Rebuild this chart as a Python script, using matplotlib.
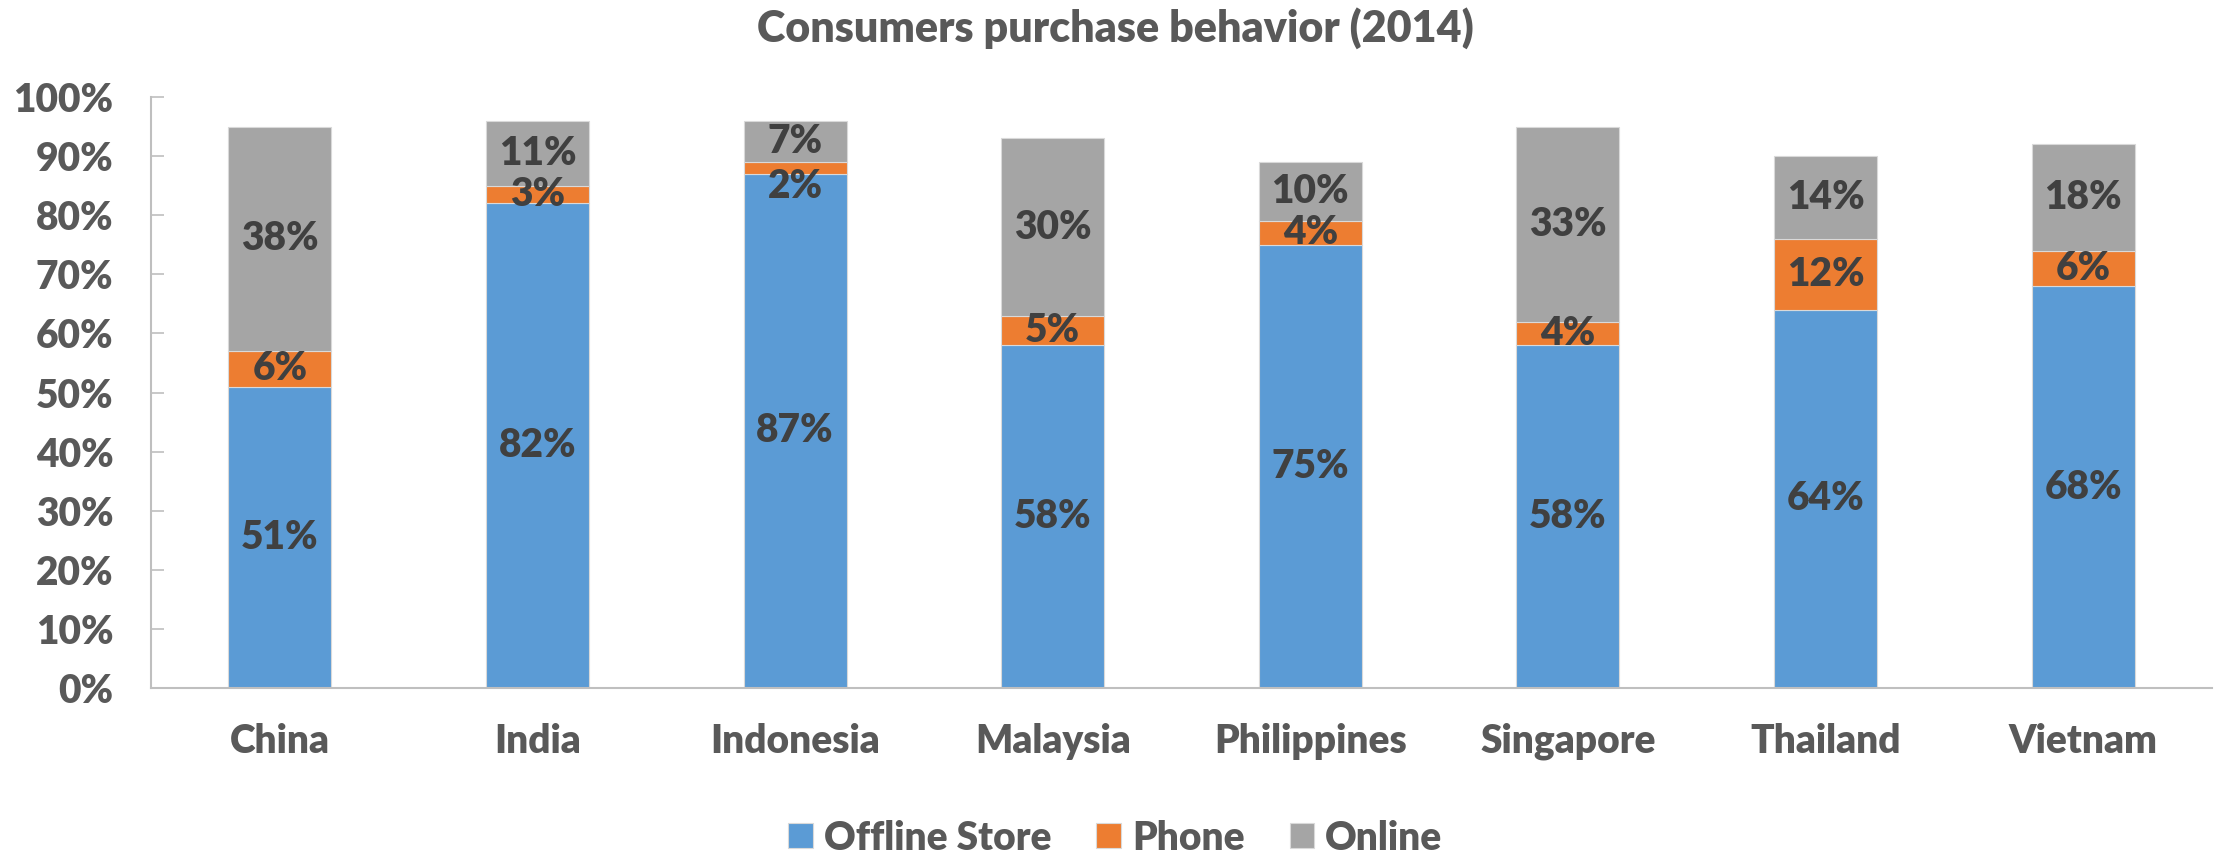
import matplotlib.pyplot as plt
import numpy as np

plt.rcParams['font.family'] = ['Lato', 'DejaVu Sans']
plt.rcParams['font.weight'] = 'heavy'

countries = ['China', 'India', 'Indonesia', 'Malaysia', 'Philippines', 'Singapore', 'Thailand', 'Vietnam']
offline = [51, 82, 87, 58, 75, 58, 64, 68]
phone = [6, 3, 2, 5, 4, 4, 12, 6]
online = [38, 11, 7, 30, 10, 33, 14, 18]

series = [('Offline Store', offline, '#5B9BD5'),
          ('Phone', phone, '#ED7D31'),
          ('Online', online, '#A5A5A5')]

fig = plt.figure(figsize=(22.31, 8.56), dpi=100)
ax = fig.add_axes([151/2231, 1-688/856, (2212-151)/2231, (688-97)/856])

x = np.arange(len(countries))
bottom = np.zeros(len(countries))
centers = []
for name, vals, col in series:
    v = np.array(vals) / 100
    ax.bar(x, v, 0.4, bottom=bottom, color=col, label=name, edgecolor='#D9D9D9', linewidth=0.8)
    centers.append(bottom + v/2)
    bottom += v

# push the phone label down when it collides with the online label (like Excel does)
lab_y = [c.copy() for c in centers]
for i in range(len(countries)):
    if lab_y[2][i] - lab_y[1][i] < 0.06:
        lab_y[1][i] = lab_y[2][i] - 0.076

for (name, vals, col), ys in zip(series, lab_y):
    for xi, yi, val in zip(x, ys, vals):
        ax.text(xi, yi, f'{val}%', ha='center', va='center',
                fontsize=28, color='#404040')

ax.set_xlim(-0.5, len(countries) - 0.5)
ax.set_ylim(0, 1)
ax.set_yticks(np.arange(0, 1.01, 0.1))
ax.set_yticklabels([f'{int(t)}%' for t in range(0, 101, 10)])
ax.set_xticks(x)
ax.set_xticklabels(countries)
ax.tick_params(axis='y', direction='in', length=9, width=1.2, color='#BFBFBF',
               labelsize=28, labelcolor='#595959', pad=27)
ax.tick_params(axis='x', length=0, labelsize=28, labelcolor='#595959', pad=25)
for s in ['top', 'right']:
    ax.spines[s].set_visible(False)
for s in ['left', 'bottom']:
    ax.spines[s].set_color('#BFBFBF')
    ax.spines[s].set_linewidth(1.5)

fig.text(0.5, 1-28/856, 'Consumers purchase behavior (2014)', ha='center', va='center',
         fontsize=31, color='#595959')

fig.legend(loc='center', bbox_to_anchor=(0.5, 1-838/856), ncol=3, frameon=False,
           fontsize=28, labelcolor='#595959', handlelength=0.62, handleheight=0.62,
           handletextpad=0.3, columnspacing=1.15)

fig.savefig('out.png', dpi=100)
